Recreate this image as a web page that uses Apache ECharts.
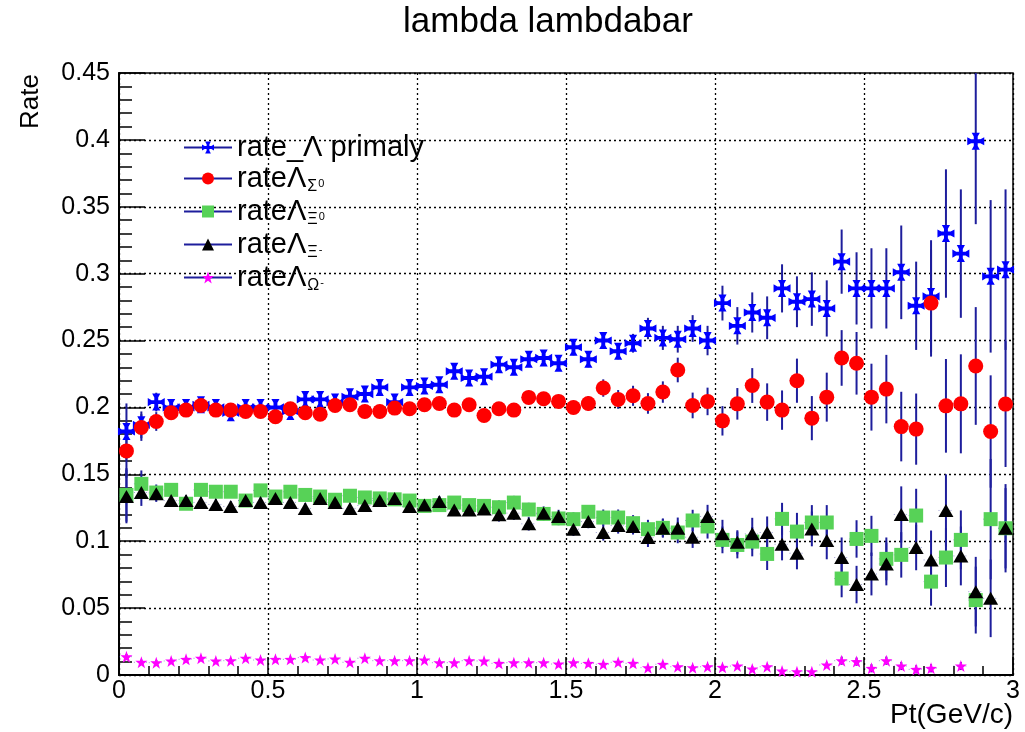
<!DOCTYPE html>
<html>
<head>
<meta charset="utf-8">
<title>lambda lambdabar</title>
<script src="https://cdn.jsdelivr.net/npm/echarts@6/dist/echarts.min.js"></script>
<style>
  html, body { margin: 0; padding: 0; background: #fff; }
  #chart { width: 1025px; height: 732px; }
</style>
</head>
<body>
<div id="chart"></div>
<script>
// Pt bin centres (GeV/c), bins of width 0.05
const ptCenters = [
  0.025, 0.075, 0.125, 0.175, 0.225, 0.275, 0.325, 0.375, 0.425, 0.475,
  0.525, 0.575, 0.625, 0.675, 0.725, 0.775, 0.825, 0.875, 0.925, 0.975,
  1.025, 1.075, 1.125, 1.175, 1.225, 1.275, 1.325, 1.375, 1.425, 1.475,
  1.525, 1.575, 1.625, 1.675, 1.725, 1.775, 1.825, 1.875, 1.925, 1.975,
  2.025, 2.075, 2.125, 2.175, 2.225, 2.275, 2.325, 2.375, 2.425, 2.475,
  2.525, 2.575, 2.625, 2.675, 2.725, 2.775, 2.825, 2.875, 2.925, 2.975
];
const binHalfWidth = 0.025;

// rate_Λ primaly
const ratePrimary = [
  0.182, 0.187, 0.204, 0.200, 0.200, 0.202, 0.200, 0.196, 0.200, 0.200,
  0.200, 0.197, 0.206, 0.206, 0.204, 0.208, 0.210, 0.215, 0.204, 0.215,
  0.216, 0.217, 0.227, 0.222, 0.223, 0.232, 0.230, 0.236, 0.237, 0.233,
  0.245, 0.236, 0.250, 0.242, 0.248, 0.259, 0.252, 0.251, 0.259, 0.250,
  0.278, 0.261, 0.271, 0.267, 0.289, 0.279, 0.281, 0.274, 0.309, 0.289,
  0.289, 0.289, 0.301, 0.276, 0.283, 0.330, 0.315, 0.399, 0.298, 0.303
];
const errPrimary = [
  0.021, 0.010, 0.007, 0.005, 0.005, 0.005, 0.005, 0.005, 0.005, 0.005,
  0.005, 0.005, 0.005, 0.005, 0.005, 0.005, 0.005, 0.005, 0.005, 0.005,
  0.005, 0.005, 0.005, 0.005, 0.005, 0.005, 0.005, 0.005, 0.005, 0.005,
  0.006, 0.006, 0.006, 0.006, 0.007, 0.008, 0.009, 0.010, 0.010, 0.011,
  0.013, 0.014, 0.015, 0.016, 0.018, 0.019, 0.020, 0.021, 0.024, 0.027,
  0.030, 0.030, 0.035, 0.033, 0.042, 0.048, 0.048, 0.062, 0.057, 0.060
];

// rateΛ from Σ0
const rateSigma0 = [
  0.1675, 0.185, 0.1895, 0.196, 0.198, 0.2015, 0.198, 0.198, 0.197, 0.197,
  0.193, 0.199, 0.196, 0.195, 0.2015, 0.202, 0.197, 0.197, 0.1995, 0.199,
  0.202, 0.203, 0.198, 0.202, 0.194, 0.199, 0.198, 0.2075, 0.2065, 0.2045,
  0.200, 0.203, 0.2145, 0.206, 0.2087, 0.203, 0.2115, 0.228, 0.2015, 0.2045,
  0.190, 0.2027, 0.2164, 0.204, 0.198, 0.220, 0.192, 0.2077, 0.237, 0.233,
  0.2077, 0.2137, 0.1857, 0.1838, 0.278, 0.2012, 0.2027, 0.231, 0.182, 0.2025
];
const errSigma0 = [
  0.020, 0.010, 0.007, 0.005, 0.005, 0.005, 0.005, 0.005, 0.005, 0.005,
  0.005, 0.005, 0.005, 0.005, 0.005, 0.005, 0.005, 0.005, 0.005, 0.005,
  0.005, 0.005, 0.005, 0.005, 0.005, 0.005, 0.005, 0.005, 0.005, 0.005,
  0.005, 0.0055, 0.0065, 0.007, 0.0075, 0.0077, 0.008, 0.0092, 0.0096, 0.0103,
  0.011, 0.0118, 0.013, 0.014, 0.0147, 0.0165, 0.0165, 0.0183, 0.0208, 0.0234,
  0.025, 0.0256, 0.026, 0.0266, 0.040, 0.035, 0.037, 0.044, 0.042, 0.047
];

// rateΛ from Ξ0
const rateXi0 = [
  0.1346, 0.1429, 0.1364, 0.1384, 0.128, 0.1384, 0.137, 0.137, 0.1304, 0.138,
  0.1334, 0.137, 0.1346, 0.1334, 0.131, 0.134, 0.1327, 0.132, 0.1313, 0.1304,
  0.1264, 0.127, 0.1289, 0.127, 0.1264, 0.1254, 0.1289, 0.1237, 0.1204, 0.117,
  0.1165, 0.122, 0.1177, 0.1177, 0.1135, 0.109, 0.110, 0.1065, 0.1155, 0.111,
  0.101, 0.0972, 0.0997, 0.0905, 0.1167, 0.1072, 0.114, 0.114, 0.0721, 0.1017,
  0.104, 0.0868, 0.0898, 0.1192, 0.0698, 0.0878, 0.101, 0.056, 0.1165, 0.1097
];
const errXi0 = [
  0.020, 0.010, 0.006, 0.004, 0.004, 0.004, 0.004, 0.004, 0.004, 0.004,
  0.004, 0.004, 0.004, 0.004, 0.004, 0.004, 0.004, 0.004, 0.004, 0.004,
  0.004, 0.004, 0.004, 0.004, 0.004, 0.005, 0.005, 0.005, 0.005, 0.005,
  0.005, 0.005, 0.006, 0.006, 0.006, 0.007, 0.007, 0.008, 0.008, 0.009,
  0.010, 0.010, 0.011, 0.012, 0.012, 0.014, 0.013, 0.013, 0.014, 0.014,
  0.015, 0.016, 0.017, 0.020, 0.018, 0.022, 0.022, 0.025, 0.045, 0.030
];

// rateΛ from Ξ-
const rateXiMinus = [
  0.1334, 0.1364, 0.1354, 0.1304, 0.1304, 0.129, 0.1275, 0.126, 0.1304, 0.129,
  0.132, 0.129, 0.1245, 0.132, 0.129, 0.1245, 0.1267, 0.1304, 0.132, 0.126,
  0.127, 0.1297, 0.1234, 0.1234, 0.124, 0.1197, 0.121, 0.113, 0.121, 0.1185,
  0.109, 0.1147, 0.1065, 0.1117, 0.111, 0.1027, 0.1097, 0.1097, 0.103, 0.1185,
  0.1055, 0.0992, 0.1055, 0.1065, 0.0977, 0.091, 0.1092, 0.1005, 0.0878, 0.0676,
  0.0755, 0.083, 0.120, 0.0953, 0.086, 0.123, 0.089, 0.0623, 0.0573, 0.1097
];
const errXiMinus = [
  0.020, 0.010, 0.006, 0.004, 0.004, 0.004, 0.004, 0.004, 0.004, 0.004,
  0.004, 0.004, 0.004, 0.004, 0.004, 0.004, 0.004, 0.004, 0.004, 0.004,
  0.004, 0.004, 0.004, 0.004, 0.004, 0.005, 0.005, 0.005, 0.005, 0.005,
  0.005, 0.005, 0.006, 0.006, 0.006, 0.007, 0.007, 0.008, 0.008, 0.0087,
  0.0105, 0.009, 0.012, 0.012, 0.012, 0.012, 0.013, 0.014, 0.015, 0.014,
  0.016, 0.016, 0.021, 0.017, 0.022, 0.027, 0.022, 0.026, 0.029, 0.033
];

// rateΛ from Ω-  (empty bins are null)
const rateOmega = [
  0.0137, 0.0095, 0.0092, 0.0105, 0.0117, 0.0125, 0.0105, 0.0107, 0.0125, 0.0112,
  0.0117, 0.0117, 0.013, 0.0112, 0.012, 0.0095, 0.0125, 0.0107, 0.0107, 0.0107,
  0.0112, 0.0092, 0.0092, 0.0107, 0.0105, 0.0087, 0.0092, 0.0092, 0.0092, 0.0082,
  0.0092, 0.0087, 0.008, 0.0095, 0.0087, 0.0055, 0.008, 0.0062, 0.0055, 0.0062,
  0.0057, 0.0067, 0.0045, 0.0062, 0.003, 0.0025, 0.0025, 0.0075, 0.0107, 0.010,
  0.005, 0.0107, 0.0067, 0.0042, 0.005, null, 0.0067, null, null, null
];
const errOmega = [
  0.002, 0.002, 0.002, 0.002, 0.002, 0.002, 0.002, 0.002, 0.002, 0.002,
  0.002, 0.002, 0.002, 0.002, 0.002, 0.002, 0.002, 0.002, 0.002, 0.002,
  0.002, 0.002, 0.002, 0.002, 0.002, 0.002, 0.002, 0.002, 0.002, 0.002,
  0.002, 0.002, 0.002, 0.002, 0.002, 0.002, 0.002, 0.002, 0.002, 0.002,
  0.002, 0.002, 0.002, 0.002, 0.002, 0.002, 0.002, 0.002, 0.003, 0.003,
  0.003, 0.003, 0.003, 0.003, 0.003, null, 0.003, null, null, null
];

// legend text pieces: main text, subscript, superscript on the subscript
const legendMain = ['rate_Λ primaly', 'rateΛ', 'rateΛ', 'rateΛ', 'rateΛ'];
const legendSub  = ['', 'Σ', 'Ξ', 'Ξ', 'Ω'];
const legendSup  = ['', '0', '0', '-', '-'];
const seriesNames = ['rate_Λ primaly', 'rateΛ Σ0', 'rateΛ Ξ0', 'rateΛ Ξ-', 'rateΛ Ω-'];

const xTicks = { min: 0, max: 3, interval: 0.5 };
const yTicks = { min: 0, max: 0.45, interval: 0.05 };

const FONT = '"Liberation Sans", Arial, Helvetica, sans-serif';
const NAVY = '#1e1e9c';

// marker shapes: flared cross and five-pointed star
const crossPath = 'path://M7.7 7.7L7.7 4.5L5.2 0L14.8 0L12.3 4.5L12.3 7.7L15.5 7.7L20 5.2L20 14.8L15.5 12.3L12.3 12.3L12.3 15.5L14.8 20L5.2 20L7.7 15.5L7.7 12.3L4.5 12.3L0 14.8L0 5.2L4.5 7.7Z';
const starPath = 'path://M10 0L12.35 6.76L19.51 6.91L13.8 11.24L15.88 18.09L10 14L4.12 18.09L6.2 11.24L0.49 6.91L7.65 6.76Z';

const seriesDefs = [
  { values: ratePrimary, errors: errPrimary, symbol: crossPath, size: [17, 17], color: '#0000ff' },
  { values: rateSigma0, errors: errSigma0, symbol: 'circle', size: 15, color: '#ff0000' },
  { values: rateXi0, errors: errXi0, symbol: 'rect', size: 14, color: '#57d257' },
  { values: rateXiMinus, errors: errXiMinus, symbol: 'triangle', size: [15, 13], color: '#000000' },
  { values: rateOmega, errors: errOmega, symbol: starPath, size: [12, 12], color: '#ff00ff' }
];

function errorBars(params, api) {
  const x = api.value(0), y = api.value(1), e = api.value(2);
  const cs = params.coordSys;
  const clampY = v => Math.max(cs.y, Math.min(cs.y + cs.height, v));
  const top = api.coord([x, y + e]);
  const bot = api.coord([x, y - e]);
  const left = api.coord([x - binHalfWidth, y]);
  const right = api.coord([x + binHalfWidth, y]);
  return {
    type: 'group',
    children: [
      { type: 'line', shape: { x1: left[0], y1: left[1], x2: right[0], y2: right[1] },
        style: { stroke: NAVY, lineWidth: 1, lineDash: [1, 3], opacity: 0.45 } },
      { type: 'line', shape: { x1: top[0], y1: clampY(top[1]), x2: bot[0], y2: clampY(bot[1]) },
        style: { stroke: NAVY, lineWidth: 2 } }
    ]
  };
}

const series = [];
seriesDefs.forEach((d, k) => {
  const errData = [];
  const pts = [];
  ptCenters.forEach((x, i) => {
    if (d.values[i] !== null) {
      errData.push([x, d.values[i], d.errors[i]]);
      pts.push([x, d.values[i]]);
    }
  });
  series.push({
    type: 'custom',
    renderItem: errorBars,
    data: errData,
    encode: { x: 0, y: 1 },
    silent: true
  });
  series.push({
    name: seriesNames[k],
    type: 'line',
    data: pts,
    symbol: d.symbol,
    symbolSize: d.size,
    showSymbol: true,
    connectNulls: false,
    lineStyle: { width: 0, opacity: 0 },
    itemStyle: { color: d.color, borderWidth: 0, opacity: 1 },
    emphasis: { disabled: true },
    silent: true
  });
});

const legendRich = {
  m: { fontFamily: FONT, fontSize: 29, color: '#000', lineHeight: 32, verticalAlign: 'middle' },
  s: { fontFamily: FONT, fontSize: 16, color: '#000', lineHeight: 16, padding: [17, 0, 0, 1], verticalAlign: 'middle' },
  p: { fontFamily: FONT, fontSize: 11, color: '#000', lineHeight: 11, padding: [10, 0, 0, 1], verticalAlign: 'middle' }
};

const chart = echarts.init(document.getElementById('chart'), null, { renderer: 'canvas' });
chart.setOption({
  animation: false,
  backgroundColor: '#ffffff',
  grid: { left: 119, right: 12, top: 73, bottom: 57, show: true, borderColor: '#000', borderWidth: 1.5, backgroundColor: 'transparent' },
  xAxis: {
    type: 'value', min: xTicks.min, max: xTicks.max, interval: xTicks.interval,
    axisLine: { show: true, onZero: false, lineStyle: { color: '#000', width: 2 } },
    axisTick: { show: true, inside: true, length: 18, lineStyle: { color: '#000', width: 1.5 } },
    minorTick: { show: true, splitNumber: 5, length: 9, lineStyle: { color: '#000', width: 1.5 } },
    splitLine: { show: true, lineStyle: { color: '#000', type: [2, 3], width: 1.3 } },
    axisLabel: { color: '#000', fontFamily: FONT, fontSize: 25, margin: 4 }
  },
  yAxis: {
    type: 'value', min: yTicks.min, max: yTicks.max, interval: yTicks.interval,
    axisLine: { show: true, onZero: false, lineStyle: { color: '#000', width: 2 } },
    axisTick: { show: true, inside: true, length: 26, lineStyle: { color: '#000', width: 1.5 } },
    minorTick: { show: true, splitNumber: 5, length: 13, lineStyle: { color: '#000', width: 1.5 } },
    splitLine: { show: true, lineStyle: { color: '#000', type: [2, 3], width: 1.3 } },
    axisLabel: { color: '#000', fontFamily: FONT, fontSize: 25, margin: 9,
      formatter: v => String(Math.round(v * 100) / 100) }
  },
  legend: {
    show: true,
    orient: 'vertical',
    left: 178, top: 128,
    itemWidth: 48, itemHeight: 15, itemGap: 0,
    data: seriesNames,
    selectedMode: false,
    lineStyle: { color: NAVY, width: 2, opacity: 1, type: 'solid' },
    textStyle: { fontFamily: FONT, fontSize: 29, color: '#000', rich: legendRich },
    formatter: name => {
      const k = seriesNames.indexOf(name);
      let s = '{m|' + legendMain[k] + '}';
      if (legendSub[k]) s += '{s|' + legendSub[k] + '}{p|' + legendSup[k] + '}';
      return s;
    }
  },
  graphic: [
    { type: 'text', x: 548, y: 22,
      style: { text: 'lambda lambdabar', fontFamily: FONT, fontSize: 35, fill: '#000', align: 'center', verticalAlign: 'middle' } },
    { type: 'text', x: 31, y: 74, rotation: Math.PI / 2,
      style: { text: 'Rate', fontFamily: FONT, fontSize: 26, fill: '#000', align: 'right', verticalAlign: 'middle' } },
    { type: 'text', x: 1013, y: 715,
      style: { text: 'Pt(GeV/c)', fontFamily: FONT, fontSize: 28, fill: '#000', align: 'right', verticalAlign: 'middle' } }
  ],
  series: series
});
</script>
</body>
</html>
